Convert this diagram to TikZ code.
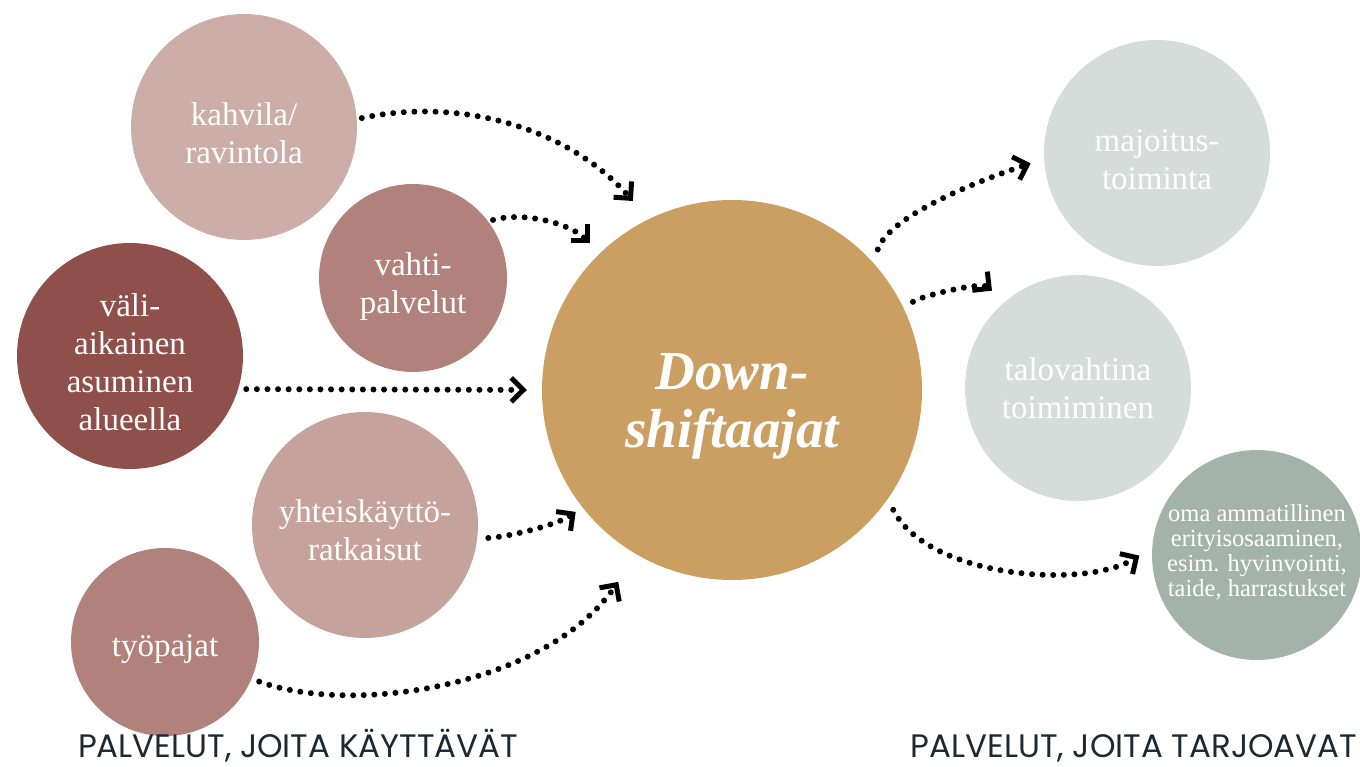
\documentclass[tikz,border=0pt]{standalone}
\usepackage{fontspec}
\setmainfont{Liberation Serif}
\newfontfamily\capsfont{Poppins}
\usetikzlibrary{arrows.meta}
\definecolor{roseA}{HTML}{CDADA7}
\definecolor{roseB}{HTML}{B1827B}
\definecolor{roseC}{HTML}{8F4F4B}
\definecolor{roseD}{HTML}{C6A29C}
\definecolor{gold}{HTML}{CB9F62}
\definecolor{mistA}{HTML}{D6DCDA}
\definecolor{mistB}{HTML}{A4B2AC}
\definecolor{ink}{HTML}{1E2830}
\tikzset{
  bubble/.style={circle, inner sep=0pt},
  bigbubble/.style={bubble, minimum size=226pt},
  midbubble/.style={bubble, minimum size=188pt},
  words/.style={inner sep=0pt, text=white, align=center,
    font=\fontsize{33}{38}\selectfont},
  flow/.style={line width=6pt, line cap=round, dash pattern=on 0pt off 10.6pt,
    -{Straight Barb[length=12pt,width=24pt,line width=5pt]}},
  caption/.style={font=\capsfont\fontsize{32.5}{34}\selectfont, text=ink,
    inner sep=0pt, anchor=base}
}
\begin{document}
\begin{tikzpicture}[x=1pt,y=1pt]
\useasboundingbox (0,-767) rectangle (1360,0);

% services used
\node[bigbubble, fill=roseA] (kah) at (244,-127) {};
\node[midbubble, fill=roseB] (vah) at (413,-278) {};
\node[bigbubble, fill=roseC] (val) at (130,-356) {};
\node[bigbubble, fill=roseD] (yht) at (365,-525) {};
\node[midbubble, fill=roseB] (tyo) at (165,-642) {};

% the group itself
\node[bubble, fill=gold, minimum size=380pt] (dsh) at (732,-390) {};

% services offered
\node[bigbubble, fill=mistA] (maj) at (1157,-153) {};
\node[bigbubble, fill=mistA] (tal) at (1078,-388) {};
\node[bubble, fill=mistB, minimum size=210pt] (oma) at (1257,-555) {};

% circle texts
\node[words] (kahT) at ([yshift=-6pt]kah.center) {kahvila/\\ravintola};
\node[words] (vahT) at ([yshift=-9pt]vah.center) {vahti-\\palvelut};
\node[words] (valT) at ([yshift=-6pt]val.center) {väli-\\aikainen\\asuminen\\alueella};
\node[words] (yhtT) at ([yshift=-5pt]yht.center) {yhteiskäyttö-\\ratkaisut};
\node[words] (tyoT) at ([yshift=-7pt]tyo.center) {työpajat};
\node[words, font=\bfseries\itshape\fontsize{55}{58}\selectfont] (dshT)
  at ([yshift=-16pt]dsh.center) {Down-\\shiftaajat};
\node[words] (majT) at ([yshift=-7pt]maj.center) {majoitus-\\toiminta};
\node[words] (talT) at (tal.center) {talovahtina\\toimiminen};
\node[words, font=\fontsize{24.5}{25}\selectfont] (omaT) at ([yshift=3pt]oma.center)
  {oma ammatillinen\\erityisosaaminen,\\esim. hyvinvointi,\\taide, harrastukset};

% dotted connectors
\draw[flow, shorten <=5pt, shorten >=24pt] (kah.4.4) .. controls +(108,23) and +(-77,88) .. (dsh.116.3);
\draw[flow, shorten <=5pt, shorten >=14pt] (vah.37.2) .. controls +(35,10) and +(-30,30) .. (dsh.134);
\draw[flow, shorten <=8pt, shorten >=15pt] (val.-17.8) -- (dsh.180.5);
\draw[flow, shorten <=11pt, shorten >=8pt] (yht.-7.4) .. controls +(40,3) and +(-20,-15) .. (dsh.218);
\draw[flow, shorten <=8pt, shorten >=33pt] (tyo.-23.8) .. controls +(100,-37) and +(-91,-132) .. (dsh.240);
\draw[flow, shorten <=14pt, shorten >=14pt] (dsh.42.6) .. controls +(15,45) and +(-75,-25) .. (maj.183);
\draw[flow, shorten <=13pt, shorten >=17pt] (dsh.24.2) .. controls +(10,15) and +(-25,20) .. (tal.130);
\draw[flow, shorten <=12pt, shorten >=15pt] (dsh.-35) .. controls +(40,-79) and +(-67,-42) .. (oma.176.7);

% captions
\node[caption] (capL) at (298,-757) {PALVELUT, JOITA KÄYTTÄVÄT};
\node[caption] (capR) at (1134,-757) {PALVELUT, JOITA TARJOAVAT};
\end{tikzpicture}
\end{document}
